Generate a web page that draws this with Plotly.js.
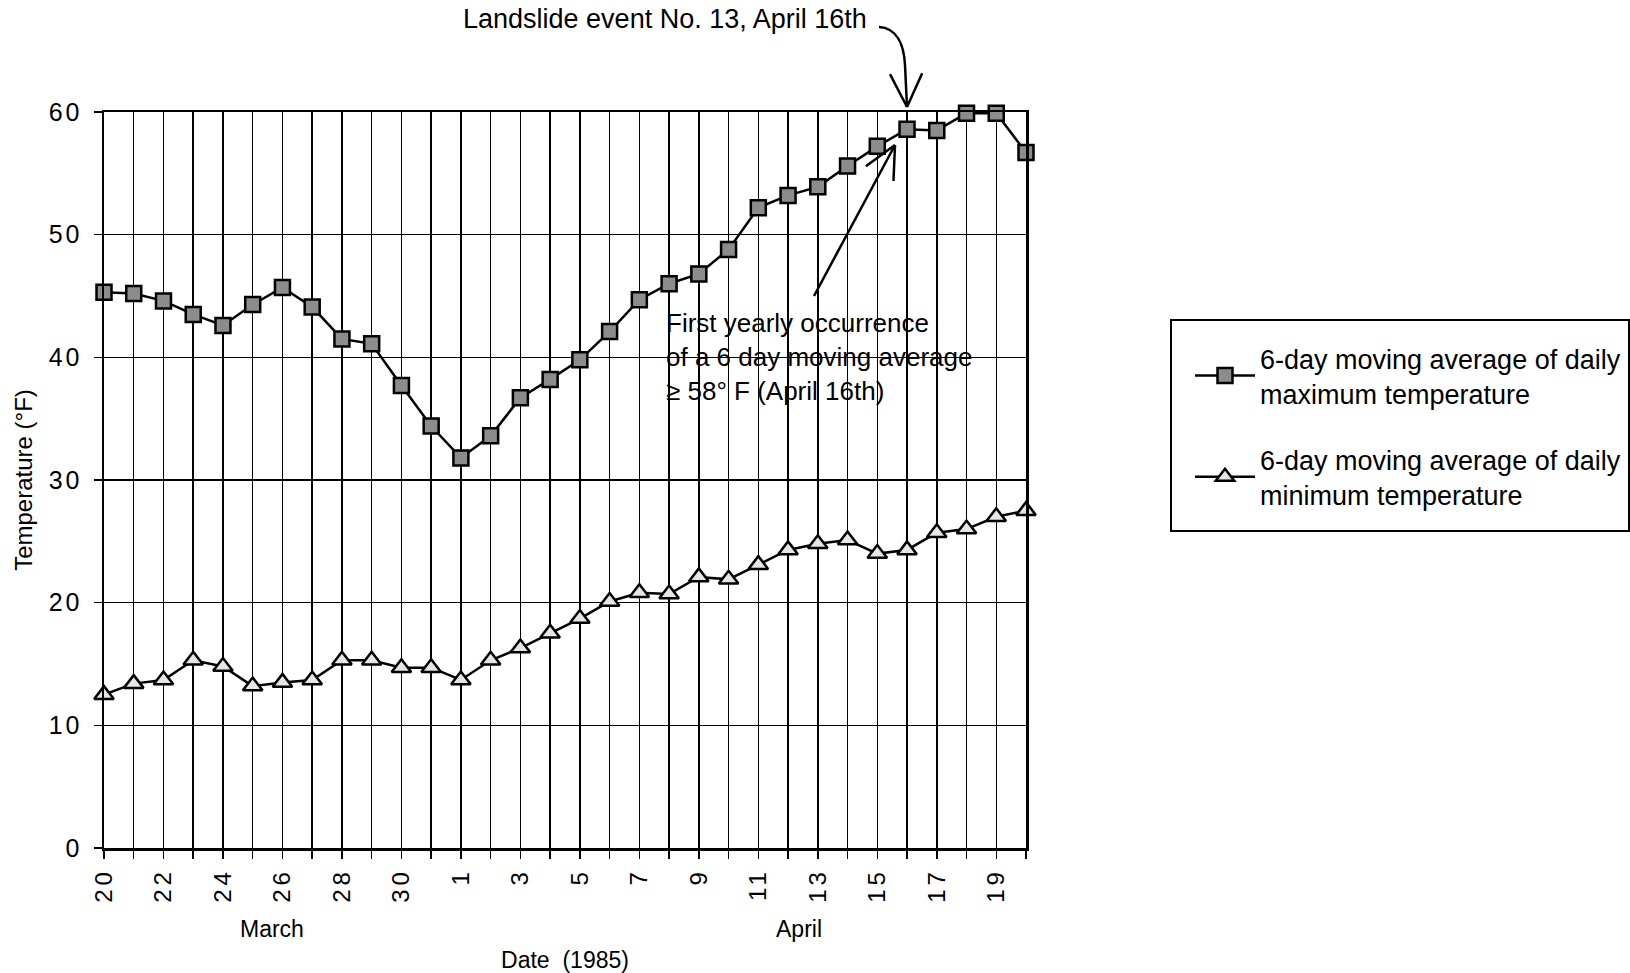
<!DOCTYPE html>
<html>
<head>
<meta charset="utf-8">
<script src="https://cdn.plot.ly/plotly-3.0.1.min.js"></script>
<style>
html,body{margin:0;padding:0;background:#fff;}
#chart{width:1630px;height:973px;}
.xtick text{letter-spacing:4px;}
.ytick text{letter-spacing:3px;}
</style>
</head>
<body>
<div id="chart"></div>
<script>
// ---- data ----
const dates = ["Mar 20","Mar 21","Mar 22","Mar 23","Mar 24","Mar 25","Mar 26","Mar 27","Mar 28","Mar 29","Mar 30","Mar 31",
  "Apr 1","Apr 2","Apr 3","Apr 4","Apr 5","Apr 6","Apr 7","Apr 8","Apr 9","Apr 10","Apr 11","Apr 12","Apr 13","Apr 14",
  "Apr 15","Apr 16","Apr 17","Apr 18","Apr 19","Apr 20"];
const dayLabels = ["20","","22","","24","","26","","28","","30","","1","","3","","5","","7","","9","","11","","13","","15","","17","","19",""];
const maxTemp = [45.3,45.2,44.6,43.5,42.6,44.3,45.7,44.1,41.5,41.1,37.7,34.4,
  31.8,33.6,36.7,38.2,39.8,42.1,44.7,46.0,46.8,48.8,52.2,53.2,53.9,55.6,57.2,58.6,58.5,59.9,59.9,56.7];
const minTemp = [12.5,13.4,13.7,15.3,14.8,13.2,13.5,13.7,15.3,15.3,14.7,14.7,
  13.7,15.3,16.3,17.5,18.7,20.1,20.8,20.7,22.1,21.9,23.1,24.3,24.8,25.1,24.0,24.3,25.7,26.0,27.0,27.5];
const seriesNames = ["6-day moving average of daily<br>maximum temperature","6-day moving average of daily<br>minimum temperature"];
const yTicks = [0,10,20,30,40,50,60];

const idx = dates.map((d,i)=>i);
const FONT = "Liberation Sans, Arial, Helvetica, sans-serif";

// plot-area geometry (pixels) for placing annotations
const L=104, R=1026, T=112, B=848;
const px = X => (X-L)/(R-L);
const py = Y => (B-Y)/(B-T);

function arrowHead(fromX,fromY,tipX,tipY,len,ang){
  const a=Math.atan2(fromY-tipY,fromX-tipX);
  const out=[];
  [ang,-ang].forEach(d=>{
    const xa=tipX+len*Math.cos(a+d), ya=tipY+len*Math.sin(a+d);
    out.push({type:'line',xref:'paper',yref:'paper',x0:px(tipX),y0:py(tipY),x1:px(xa),y1:py(ya),line:{color:'#000',width:2.5}});
  });
  return out;
}

const traces = [
  {x: idx, y: maxTemp, name: seriesNames[0], legendgroup:'a', type:'scatter', mode:'lines+markers', cliponaxis:false,
   line:{color:'#000', width:2.5},
   marker:{symbol:'square', size:15, color:'#8c8c8c', line:{color:'#000', width:2.5}}},
  {x: idx, y: minTemp, name: seriesNames[1], legendgroup:'b', type:'scatter', mode:'lines+markers', cliponaxis:false,
   line:{color:'#000', width:2.5},
   marker:{symbol:'triangle-up', size:17, color:'#e6e6e6', line:{color:'#000', width:2.5}}}
];

// curved arrow for landslide event
const curve = 'M '+px(879)+','+py(27)+' C '+px(897)+','+py(28)+' '+px(904)+','+py(45)+' '+px(905)+','+py(65)+' L '+px(907)+','+py(107);
const shapes = [
  {type:'path', xref:'paper', yref:'paper', path:curve, line:{color:'#000', width:2.5}},
  ...arrowHead(906,70,907,107,37,0.45),
  {type:'line', xref:'paper', yref:'paper', x0:px(814), y0:py(296), x1:px(895), y1:py(145), line:{color:'#000', width:2.5}},
  ...arrowHead(814,296,895,145,36,0.45),
  {type:'rect', xref:'paper', yref:'paper', x0:px(1171), y0:py(320), x1:px(1629), y1:py(531), line:{color:'#000', width:2}, fillcolor:'rgba(0,0,0,0)'}
];

const annotations = [
  {xref:'paper', yref:'paper', x:px(665), y:py(19), text:'Landslide event No. 13, April 16th', showarrow:false,
   xanchor:'center', yanchor:'middle', font:{family:FONT, size:27, color:'#000'}},
  {xref:'paper', yref:'paper', x:px(664), y:py(357), text:'First yearly occurrence<br>of a 6 day moving average<br>≥ 58° F (April 16th)', showarrow:false,
   xanchor:'left', yanchor:'middle', align:'left', font:{family:FONT, size:26, color:'#000'}},
  {xref:'paper', yref:'paper', x:px(272), y:py(929), text:'March', showarrow:false, xanchor:'center', yanchor:'middle',
   font:{family:FONT, size:23, color:'#000'}},
  {xref:'paper', yref:'paper', x:px(799), y:py(929), text:'April', showarrow:false, xanchor:'center', yanchor:'middle',
   font:{family:FONT, size:23, color:'#000'}}
];

const layout = {
  width:1630, height:973,
  margin:{l:L, r:1630-R, t:T, b:973-B, pad:0, autoexpand:false},
  paper_bgcolor:'#fff', plot_bgcolor:'#fff',
  font:{family:FONT, color:'#000'},
  showlegend:true,
  legend:{x:px(1190), y:py(334), xanchor:'left', yanchor:'top', bgcolor:'rgba(0,0,0,0)', borderwidth:0,
          font:{family:FONT, size:27, color:'#000'}, itemwidth:60, tracegroupgap:28},
  xaxis:{range:[0,31], tickmode:'array', tickvals:idx, ticktext:dayLabels, tickangle:-90,
         showgrid:true, gridcolor:'#000', gridwidth:1.5, zeroline:false,
         showline:true, linecolor:'#000', linewidth:2.5, mirror:true,
         ticks:'outside', ticklen:8, tickwidth:1.5, tickcolor:'#000', ticklabelstandoff:0,
         tickfont:{family:FONT, size:24, color:'#000'},
         title:{text:'Date  (1985)', standoff:50, font:{family:FONT, size:23, color:'#000'}}, automargin:false},
  yaxis:{range:[0,60], tickmode:'array', tickvals:yTicks,
         showgrid:true, gridcolor:'#000', gridwidth:1.5, zeroline:false,
         showline:true, linecolor:'#000', linewidth:2.5, mirror:true,
         ticks:'outside', ticklen:8, tickwidth:1.5, tickcolor:'#000', ticklabelstandoff:6,
         tickfont:{family:FONT, size:25, color:'#000'},
         title:{text:'Temperature (°F)', standoff:10, font:{family:FONT, size:24, color:'#000'}}, automargin:false},
  shapes:shapes,
  annotations:annotations
};

Plotly.newPlot('chart', traces, layout, {displayModeBar:false, staticPlot:true});
</script>
</body>
</html>
